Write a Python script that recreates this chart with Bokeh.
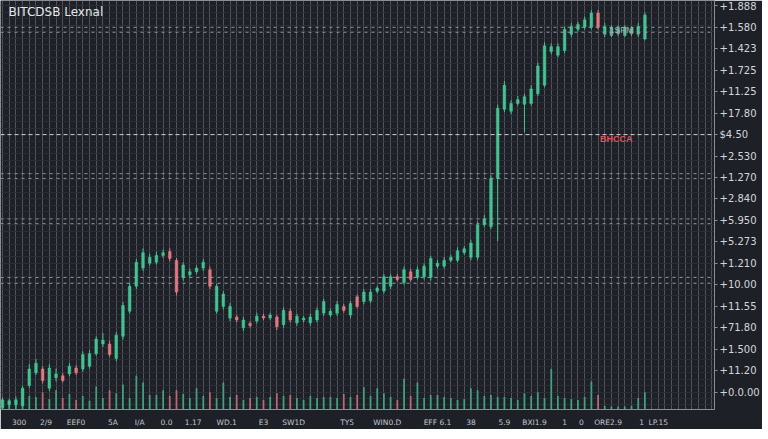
import numpy as np
import pandas as pd
from bokeh.plotting import figure
from bokeh.models import (Range1d, FixedTicker, SingleIntervalTicker, Span, Label,
                          ColumnDataSource)
from bokeh.embed import file_html
from bokeh.resources import INLINE

# ---- data (price in axis units, volume in arbitrary units) ----
opens = [-0.72, -0.58, -0.58, -0.63, 0.31, 0.90, 1.08, 0.18, 0.67, 0.76,
         0.85, 1.12, 1.08, 1.21, 1.79, 2.24, 2.24, 1.57, 2.60, 3.77,
         4.93, 5.78, 6.01, 6.05, 6.37, 6.55, 6.14, 5.34, 5.47, 5.61,
         5.78, 5.70, 3.77, 3.99, 3.45, 3.50, 3.00, 3.20, 3.32, 3.54,
         3.45, 3.50, 3.14, 3.77, 3.23, 3.36, 3.23, 3.36, 3.68, 3.59,
         3.68, 3.99, 3.59, 4.44, 4.22, 4.26, 4.70, 4.71, 4.93, 5.38,
         5.11, 5.61, 5.34, 5.38, 5.34, 5.87, 5.87, 6.14, 6.14, 6.50,
         6.28, 6.28, 7.80, 7.71, 9.96, 13.18, 13.09, 13.45, 13.41, 13.45,
         13.90, 14.30, 15.87, 15.70, 15.92, 16.68, 16.91, 17.00, 17.00, 17.67,
         16.68, 16.62, 16.70, 16.62, 16.70, 16.68, 16.46]
closes = [-0.36, -0.40, -0.36, 0.18, 1.08, 1.35, 0.54, 1.12, 0.85, 0.54,
          1.21, 0.90, 1.75, 1.79, 2.47, 2.42, 1.75, 2.65, 4.04, 4.93,
          6.05, 6.50, 6.28, 6.37, 6.50, 6.23, 4.66, 5.92, 5.61, 5.78,
          6.05, 4.93, 4.93, 4.57, 3.99, 3.36, 3.36, 3.10, 3.54, 3.45,
          3.59, 3.05, 3.81, 3.36, 3.54, 3.45, 3.50, 3.81, 4.22, 3.77,
          4.08, 3.81, 4.13, 3.99, 4.66, 4.66, 4.85, 5.38, 5.38, 5.25,
          5.70, 5.25, 5.70, 5.87, 6.23, 6.01, 6.14, 6.28, 6.59, 6.68,
          6.95, 7.80, 8.07, 9.96, 13.23, 14.30, 13.45, 13.63, 13.77, 14.13,
          15.20, 16.14, 16.10, 16.10, 16.91, 17.04, 17.13, 17.35, 17.67, 17.00,
          17.04, 17.00, 16.95, 17.00, 16.95, 17.04, 17.58]
highs = [-0.25, -0.30, -0.20, 0.30, 1.30, 1.55, 1.20, 1.30, 1.10, 0.90,
         1.35, 1.25, 1.90, 1.95, 2.60, 2.75, 2.40, 2.80, 4.20, 5.10,
         6.20, 6.70, 6.45, 6.55, 6.65, 6.70, 6.25, 6.05, 5.75, 5.90,
         6.20, 5.85, 5.05, 4.70, 4.15, 3.60, 3.50, 3.30, 3.70, 3.65,
         3.70, 3.60, 3.95, 3.90, 3.65, 3.55, 3.65, 3.95, 4.35, 3.90,
         4.25, 4.10, 4.25, 4.55, 4.80, 4.80, 4.95, 5.50, 5.50, 5.50,
         5.85, 5.75, 5.85, 6.00, 6.35, 6.15, 6.30, 6.40, 6.75, 6.80,
         7.10, 7.95, 8.25, 10.10, 13.40, 14.50, 13.60, 13.80, 13.90, 14.30,
         15.35, 16.30, 16.25, 16.25, 17.05, 17.20, 17.25, 17.50, 17.80, 17.80,
         17.20, 17.10, 17.10, 17.10, 17.05, 17.20, 17.70]
lows = [-0.80, -0.70, -0.70, -0.70, 0.20, 0.80, 0.40, 0.05, 0.50, 0.45,
        0.75, 0.80, 0.95, 1.10, 1.70, 2.10, 1.65, 1.45, 2.45, 3.65,
        4.80, 5.65, 5.90, 5.95, 6.25, 6.10, 4.50, 5.20, 5.35, 5.50,
        5.65, 4.80, 3.65, 3.85, 3.30, 3.25, 2.85, 3.00, 3.20, 3.35,
        3.35, 2.90, 3.00, 3.25, 3.10, 3.25, 3.10, 3.25, 3.55, 3.50,
        3.55, 3.70, 3.45, 3.90, 4.10, 4.15, 4.60, 4.60, 4.80, 5.15,
        5.00, 5.15, 5.25, 5.25, 5.20, 5.75, 5.75, 6.05, 6.05, 6.40,
        6.15, 6.15, 7.70, 7.60, 7.04, 13.05, 12.95, 13.35, 12.11, 13.35,
        13.80, 14.20, 15.75, 15.60, 15.80, 16.55, 16.80, 16.90, 16.90, 16.90,
        16.55, 16.55, 16.60, 16.55, 16.60, 16.55, 16.40]
volumes = [10, 8, 9, 22, 14, 13, 18, 11, 20, 12,
           16, 10, 14, 9, 24, 12, 20, 17, 26, 12,
           35, 28, 15, 15, 20, 14, 20, 16, 12, 22,
           14, 18, 12, 28, 13, 15, 10, 12, 13, 10,
           13, 17, 14, 15, 12, 10, 14, 12, 13, 13,
           12, 16, 13, 15, 23, 14, 22, 17, 13, 10,
           32, 14, 28, 12, 15, 15, 13, 12, 10, 11,
           22, 20, 14, 15, 13, 13, 12, 10, 17, 14,
           18, 12, 42, 14, 12, 11, 10, 13, 29, 15,
           4, 3, 3, 3, 4, 12, 18]

price_tick_values = list(range(19))
price_tick_labels = ["+0.0.00", "+11.20", "+1.500", "+71.80", "+11.55", "+10.00",
                     "+1.210", "+5.273", "+5.950", "+2.840", "+1.270", "+2.530",
                     "$4.50", "+17.80", "+11.25", "+1.725", "+1.423", "+1.580", "+1.888"]
highlight_level = 12

time_tick_pos = [2.5, 6.5, 11, 16.5, 20.5, 24.5, 28.5, 33.5, 39, 43.5, 51.5,
                 57.5, 65, 70, 75, 79.5, 84, 86.5, 90.5, 95.5, 98]
time_tick_labels = ["300", "2/9", "EEF0", "5A", "I/A", "0.0", "1.17", "WD.1", "E3",
                    "SW1D", "TY5", "WIN0.D", "EFF 6.1", "38", "5.9", "BXI1.9",
                    "1", "0", "ORE2.9", "1", "LP.15"]

dotted_levels = [17.0, 16.77, 10.18, 9.96, 8.07, 7.85, 5.34, 5.07]

title_text = "BITCDSB Lexnal"
marker_text = "BHCCA"
marker_pos = (91.7, 11.8)
note_text = "1SPM"
note_pos = (92.5, 16.86)

# ---- styling ----
BG = "#1d2027"
GREEN = "#45c393"
RED = "#e07a80"

df = pd.DataFrame(dict(open=opens, close=closes, high=highs, low=lows, volume=volumes))
df["idx"] = np.arange(len(df))
df["top"] = df[["open", "close"]].max(axis=1)
df["bottom"] = df[["open", "close"]].min(axis=1)
df["color"] = np.where(df["close"] >= df["open"], GREEN, RED)
src = ColumnDataSource(df)

p = figure(frame_width=714, frame_height=409,
           x_range=Range1d(-0.3, 106.4), y_range=Range1d(-0.81, 18.25),
           output_backend="svg", toolbar_location=None, y_axis_location="right",
           min_border_left=0, min_border_top=0, min_border_right=37, min_border_bottom=13,
           background_fill_color=BG, border_fill_color=BG, outline_line_color=None)

p.extra_y_ranges = {"vol": Range1d(0, 425)}

# grids
p.xgrid.ticker = FixedTicker(ticks=list(range(0, 107)))
p.xgrid.grid_line_color = "#7a7d86"
p.xgrid.grid_line_alpha = 0.55
p.ygrid.ticker = SingleIntervalTicker(interval=0.3)
p.ygrid.grid_line_color = "#2c2f36"
p.ygrid.grid_line_alpha = 0.9

for lv in dotted_levels:
    p.add_layout(Span(location=lv, dimension="width", line_color="#9a9da4",
                      line_dash="3 4", line_width=1, line_alpha=0.9))
p.add_layout(Span(location=highlight_level, dimension="width", line_color="#d0d3d8",
                  line_dash="4 3", line_width=1))

# volume
p.vbar(x="idx", top="volume", bottom=0, width=0.28, y_range_name="vol",
       fill_color="color", line_color=None, fill_alpha=0.7, source=src)

# candles
p.segment(x0="idx", y0="low", x1="idx", y1="high", line_color="color", line_width=1, source=src)
p.vbar(x="idx", top="top", bottom="bottom", width=0.4, fill_color="color",
       line_color="color", line_width=0.5, source=src)

# axes
ya = p.yaxis[0]
ya.ticker = FixedTicker(ticks=price_tick_values)
ya.major_label_overrides = {v: t for v, t in zip(price_tick_values, price_tick_labels)}
ya.major_label_text_color = "#d4d6da"
ya.major_label_text_font_size = "10px"
ya.major_label_text_font = "DejaVu Sans"
ya.axis_line_color = "#8a8d93"
ya.major_tick_line_color = "#8a8d93"
ya.major_tick_out = 3
ya.major_tick_in = 0
ya.minor_tick_line_color = None
ya.major_label_standoff = 2

xa = p.xaxis[0]
xa.ticker = FixedTicker(ticks=time_tick_pos)
xa.major_label_overrides = {v: t for v, t in zip(time_tick_pos, time_tick_labels)}
xa.major_label_text_color = "#c4c6ca"
xa.major_label_text_font_size = "7.5px"
xa.major_label_text_font = "DejaVu Sans"
xa.axis_line_color = "#8a8d93"
xa.major_tick_line_color = None
xa.minor_tick_line_color = None
xa.major_label_standoff = 2

# texts
p.add_layout(Label(x=0.9, y=17.71, text=title_text, text_color="#e6e7ea",
                   text_font_size="12px", text_font="DejaVu Sans", text_baseline="middle"))
p.add_layout(Label(x=marker_pos[0], y=marker_pos[1], text=marker_text, text_color="#e2545c",
                   text_font_size="9px", text_font_style="bold", text_align="center",
                   text_baseline="middle"))
p.add_layout(Label(x=note_pos[0], y=note_pos[1], text=note_text, text_color="#a9acb2",
                   text_font_size="9px", text_align="center", text_baseline="middle"))

open("out.html", "w").write(file_html(p, INLINE))
